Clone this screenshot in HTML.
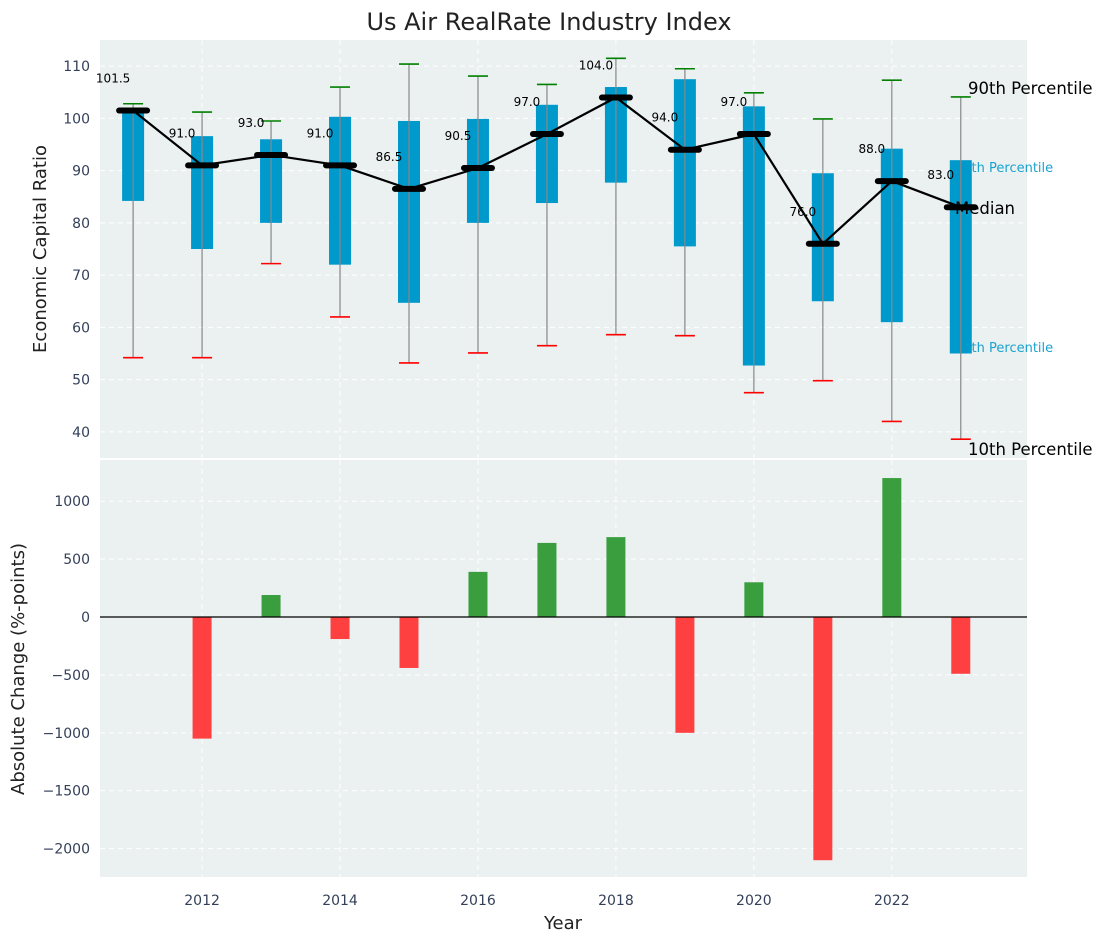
<!DOCTYPE html>
<html><head><meta charset="utf-8"><style>
body{margin:0;background:#fff;font-family:"Liberation Sans","DejaVu Sans",sans-serif}
svg text{font-family:"DejaVu Sans","Liberation Sans",sans-serif}
</style></head><body>
<svg id="c" width="1103" height="942" xmlns="http://www.w3.org/2000/svg"></svg>
<script>
const years=[2011,2012,2013,2014,2015,2016,2017,2018,2019,2020,2021,2022,2023];
const medians=[101.5,91,93,91,86.5,90.5,97,104,94,97,76,88,83];
const q25=[84.2,75,80,72,64.7,80,83.8,87.7,75.5,52.7,65,61,55];
const q75=[102,96.6,96,100.3,99.5,99.9,102.6,106,107.5,102.3,89.5,94.2,92];
const p10=[54.2,54.2,72.2,62,53.2,55.1,56.5,58.6,58.4,47.5,49.8,42,38.6];
const p90=[102.8,101.2,99.5,106,110.4,108.1,106.5,111.5,109.5,104.9,99.9,107.3,104.1];
const changes=[0,-1050,190,-190,-440,390,640,690,-1000,300,-2100,1200,-490];
const topTicks=[40,50,60,70,80,90,100,110];
const botTicks=[-2000,-1500,-1000,-500,0,500,1000];
const xTicks=[2012,2014,2016,2018,2020,2022];

const svg=document.getElementById('c');const NS='http://www.w3.org/2000/svg';
function el(t,a,txt,p){const e=document.createElementNS(NS,t);for(const k in a)e.setAttribute(k,a[k]);if(txt!=null)e.textContent=txt;(p||svg).appendChild(e);return e;}
const L=100,R=1027,T1=40,B1=458,T2=460,B2=877;
const X=v=>L+(v-2010.52)/(2023.96-2010.52)*(R-L);
const Y1=v=>B1-(v-35)/(115-35)*(B1-T1);
const Y2=v=>B2-(v+2245)/(1356+2245)*(B2-T2);

el('text',{x:549,y:30,'font-size':24,'text-anchor':'middle',fill:'#222',},'Us Air RealRate Industry Index');
let g;
g=el('rect',{x:L,y:T1,width:R-L,height:B1-T1,fill:'#ebf0f0'});
g=el('rect',{x:L,y:T2,width:R-L,height:B2-T2,fill:'#ebf0f0'});
xTicks.forEach(t=>{
 el('line',{x1:X(t),x2:X(t),y1:T1,y2:B1,stroke:'#fff','stroke-dasharray':'5,4'});
 el('line',{x1:X(t),x2:X(t),y1:T2,y2:B2,stroke:'#fff','stroke-dasharray':'5,4'});
 g=el('text',{x:X(t),y:905,'font-size':14,'text-anchor':'middle',fill:'#34405a'},t);
 
});
topTicks.forEach(t=>{
 el('line',{x1:L,x2:R,y1:Y1(t),y2:Y1(t),stroke:'#fff','stroke-dasharray':'5,4'});
 g=el('text',{x:L-10,y:Y1(t)+5,'font-size':14,'text-anchor':'end',fill:'#34405a'},t);
 
});
botTicks.forEach(t=>{
 el('line',{x1:L,x2:R,y1:Y2(t),y2:Y2(t),stroke:'#fff','stroke-dasharray':'5,4'});
 g=el('text',{x:L-10,y:Y2(t)+5,'font-size':14,'text-anchor':'end',fill:'#34405a'},(t<0?'\u2212'+(-t):t));
 
});
const lab=(x,y,s,fs,c,n)=>{g=el('text',{x:x,y:y,'font-size':fs,fill:c},s);};
lab(955,172,'75th Percentile',13,'#1aa3d0','label-75th');
lab(955,352,'25th Percentile',13,'#1aa3d0','label-25th');
years.forEach((y,i)=>{
 const x=X(y);
 g=el('rect',{x:x-11,y:Y1(q75[i]),width:22,height:Y1(q25[i])-Y1(q75[i]),fill:'#0099cc'});
 
 g=el('line',{x1:x,x2:x,y1:Y1(p90[i]),y2:Y1(p10[i]),stroke:'#888','stroke-width':1.2});
 
 g=el('line',{x1:x-10,x2:x+10,y1:Y1(p90[i]),y2:Y1(p90[i]),stroke:'green','stroke-width':1.6});
 
 g=el('line',{x1:x-10,x2:x+10,y1:Y1(p10[i]),y2:Y1(p10[i]),stroke:'red','stroke-width':1.6});
 
});
g=el('polyline',{points:years.map((y,i)=>X(y)+','+Y1(medians[i])).join(' '),fill:'none',stroke:'#000','stroke-width':2.2});

years.forEach((y,i)=>{
 const x=X(y);
 g=el('line',{x1:x-14,x2:x+14,y1:Y1(medians[i]),y2:Y1(medians[i]),stroke:'#000','stroke-width':6,'stroke-linecap':'round'});
 
 g=el('text',{x:x-20,y:Y1(medians[i])-28,'font-size':12,'text-anchor':'middle',fill:'#000'},medians[i].toFixed(1));
 
});
lab(968,94,'90th Percentile',16.5,'#000','label-90th');
lab(955,214,'Median',16.5,'#000','label-median');
lab(968,455,'10th Percentile',16.5,'#000','label-10th');
years.forEach((y,i)=>{
 const v=changes[i];if(v===0)return;
 g=el('rect',{x:X(y)-9.5,y:Math.min(Y2(v),Y2(0)),width:19,height:Math.abs(Y2(v)-Y2(0)),fill:v>0?'#3a9e3f':'#ff4040'});
 
});
el('line',{x1:L,x2:R,y1:Y2(0),y2:Y2(0),stroke:'#000','stroke-width':1.2});
g=el('text',{x:46,y:249,'font-size':18,'text-anchor':'middle',fill:'#222',transform:'rotate(-90 46 249)'},'Economic Capital Ratio');

g=el('text',{x:24,y:669,'font-size':18,'text-anchor':'middle',fill:'#222',transform:'rotate(-90 24 669)'},'Absolute Change (%-points)');

g=el('text',{x:563,y:929,'font-size':18,'text-anchor':'middle',fill:'#222'},'Year');

</script>
</body></html>
